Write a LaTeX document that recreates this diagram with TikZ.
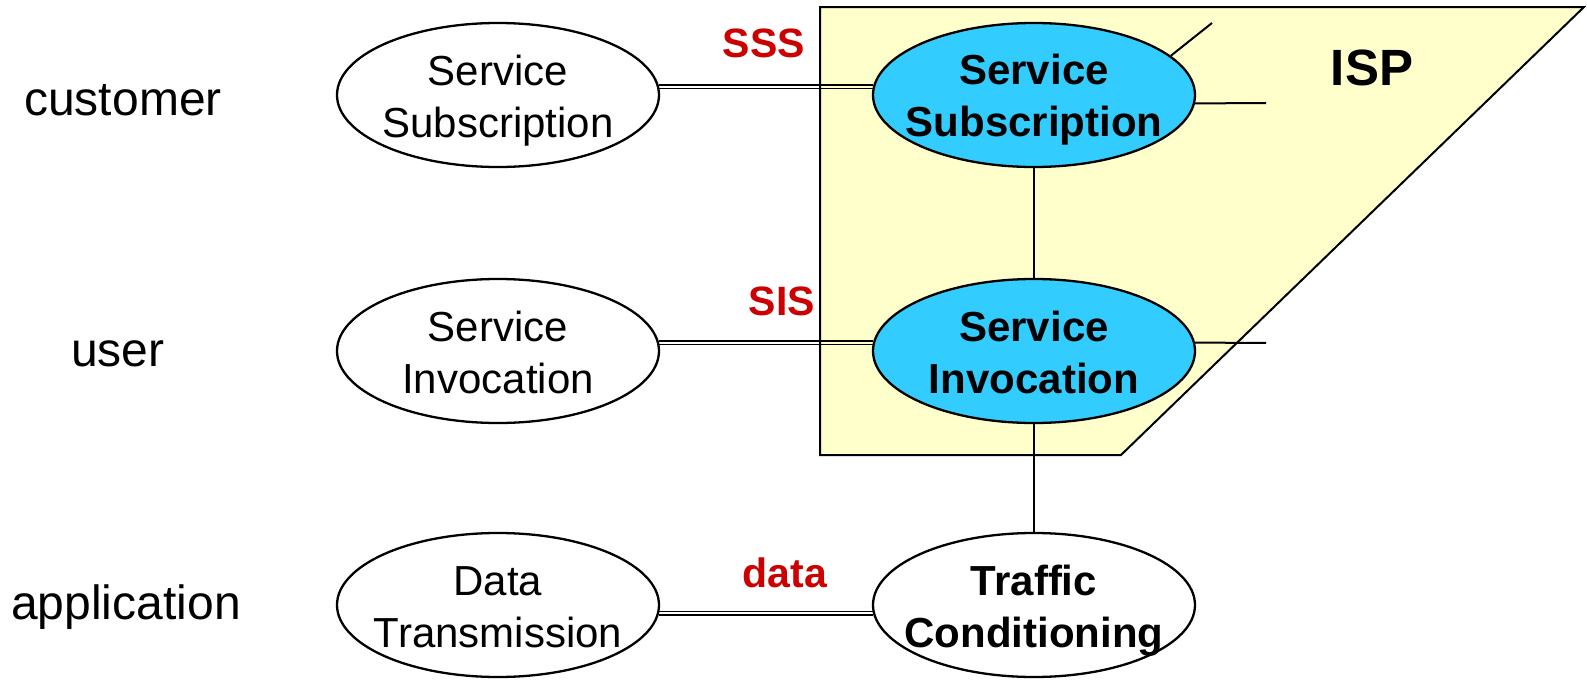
\documentclass[tikz,border=0pt]{standalone}
\usepackage{fontspec}
\setmainfont{Liberation Sans}
\usetikzlibrary{shapes.geometric}
\definecolor{ispfill}{HTML}{FFFFCC}
\definecolor{nodeblue}{HTML}{33CCFF}
\definecolor{lblred}{HTML}{CC0000}
\begin{document}
\begin{tikzpicture}[x=0.5pt,y=-0.5pt,
  oval/.style={ellipse, draw, line width=1.15pt, minimum width=161pt, minimum height=72pt, inner sep=0pt},
  plainoval/.style={oval, fill=white},
  ispoval/.style={oval, fill=nodeblue},
  intxt/.style={align=center, font=\fontsize{21}{26}\selectfont, inner sep=0pt},
  boldtxt/.style={align=center, font=\fontsize{21}{26}\selectfont\bfseries, inner sep=0pt},
  role/.style={font=\fontsize{24}{28}\selectfont, anchor=base, inner sep=0pt},
  proto/.style={font=\fontsize{20.5}{24}\selectfont\bfseries, text=lblred, anchor=base, inner sep=0pt},
  link/.style={line width=0.85pt},
  stub/.style={line width=1pt},
]
\useasboundingbox (0,0) rectangle (1587,680);
% ISP region
\draw[fill=ispfill, line width=1pt] (820,7) -- (1584,7) -- (1121,455) -- (820,455) -- cycle;
% ellipses
\node[plainoval] (L1) at (498,95) {};
\node[plainoval] (L2) at (498,351) {};
\node[plainoval] (L3) at (498,605) {};
\node[ispoval] (R1) at (1034,95) {};
\node[ispoval] (R2) at (1034,351) {};
\node[plainoval] (R3) at (1034,605) {};
% double links
\draw[link] ([yshift=0.95pt]L1.3) -- ([yshift=0.95pt]R1.177);
\draw[link] ([yshift=-0.95pt]L1.3) -- ([yshift=-0.95pt]R1.177);
\draw[link] ([yshift=0.95pt]L2.3) -- ([yshift=0.95pt]R2.177);
\draw[link] ([yshift=-0.95pt]L2.3) -- ([yshift=-0.95pt]R2.177);
\draw[link] ([yshift=0.95pt]L3.-3) -- ([yshift=0.95pt]R3.183);
\draw[link] ([yshift=-0.95pt]L3.-3) -- ([yshift=-0.95pt]R3.183);
% vertical links
\draw[stub] (R1.south) -- (R2.north);
\draw[stub] (R2.south) -- (R3.north);
% stubs
\coordinate (s1) at (1212,23);
\coordinate (s2) at (1266,103);
\coordinate (s3) at (1266,343);
\draw[stub] (R1.16) -- (s1);
\draw[stub] (R1.-3) -- (s2);
\draw[stub] (R2.3) -- (s3);
% texts in ellipses
\node[intxt] (L1t) at (498,101) {Service\\Subscription};
\node[intxt] (L2t) at (498,352) {Service\\Invocation};
\node[intxt] (L3t) at (498,607) {Data\\Transmission};
\node[boldtxt] (R1t) at (1034,100) {Service\\Subscription};
\node[boldtxt] (R2t) at (1034,352) {Service\\Invocation};
\node[boldtxt] (R3t) at (1034,611) {Traffic\\Conditioning};
% role labels
\node[role] (cust) at (123,115) {customer};
\node[role] (usr) at (118,366) {user};
\node[role] (app) at (126,619) {application};
% protocol labels
\node[proto] (sss) at (764,57) {SSS};
\node[proto] (sis) at (782,315) {SIS};
\node[proto] (dat) at (785,587) {data};
% ISP label
\node[font=\fontsize{25.5}{30}\selectfont\bfseries, anchor=base, inner sep=0pt] (isplbl) at (1372,85) {ISP};
\end{tikzpicture}
\end{document}
